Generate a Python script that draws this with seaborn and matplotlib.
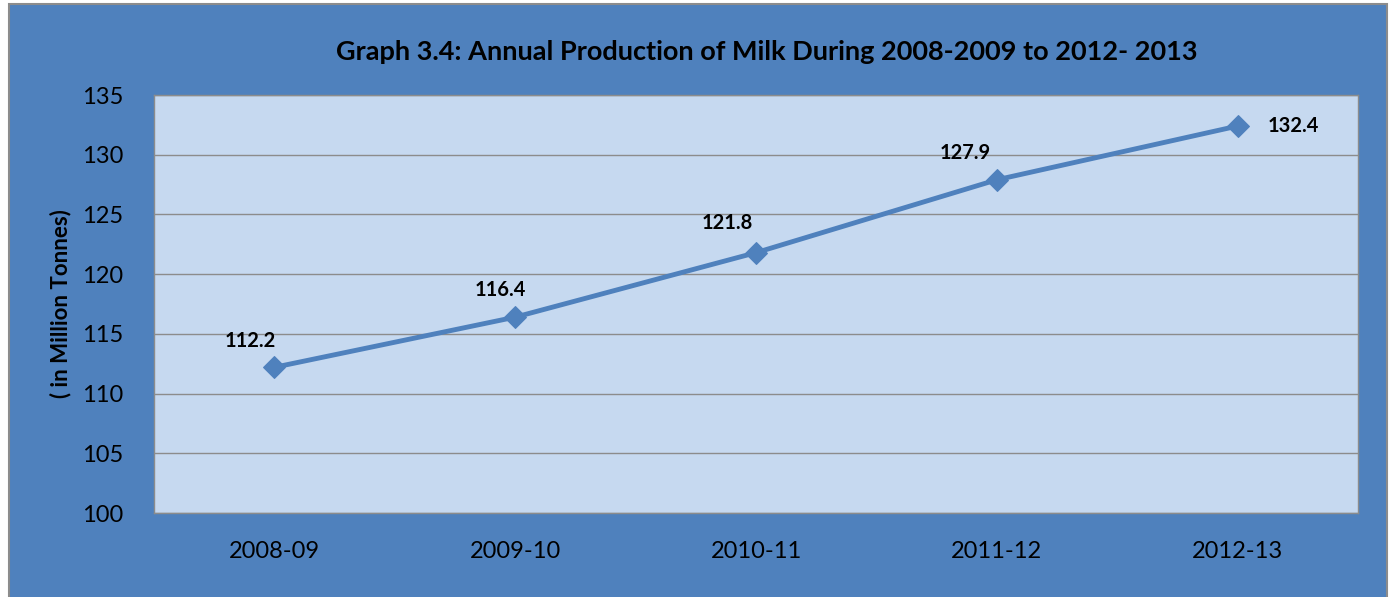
import pandas as pd
import matplotlib.pyplot as plt
import seaborn as sns
from matplotlib.patches import Rectangle

# Chart data
years = ["2008-09", "2009-10", "2010-11", "2011-12", "2012-13"]
milk_production = [112.2, 116.4, 121.8, 127.9, 132.4]
y_ticks = [100, 105, 110, 115, 120, 125, 130, 135]

df = pd.DataFrame({"year": years, "production": milk_production})

sns.set_style("white")
plt.rcParams["font.family"] = ["Lato", "DejaVu Sans"]
plt.rcParams["text.color"] = "black"

W, H = 1392, 597
fig = plt.figure(figsize=(W / 100, H / 100), dpi=100)
fig.patch.set_facecolor("white")

# Blue chart frame
fig.patches.append(Rectangle(
    (9 / W, -0.02), (1387 - 9) / W, 1.02 - 4 / H,
    transform=fig.transFigure, facecolor="#4F81BD",
    edgecolor="#8C8C8C", linewidth=1.5, zorder=-5
))

ax = fig.add_axes([154 / W, 1 - 513 / H, (1358 - 154) / W, (513 - 95) / H])
ax.set_zorder(2)
ax.set_facecolor("#C6D9F0")

sns.lineplot(
    x="year", y="production", data=df, ax=ax,
    color="#4F81BD", linewidth=3.5, marker="D", markersize=11,
    markeredgecolor="#4F81BD", sort=False
)

ax.set_xlim(-0.5, len(years) - 0.5)
ax.set_ylim(100, 135)
ax.set_yticks(y_ticks)
ax.grid(axis="y", color="#8C8C8C", linewidth=1)
ax.set_axisbelow(True)
for spine in ax.spines.values():
    spine.set_color("#8C8C8C")
    spine.set_linewidth(1)
ax.tick_params(axis="both", length=0, labelsize=17, colors="black")
ax.tick_params(axis="x", pad=20)
ax.tick_params(axis="y", pad=22)

ax.set_xlabel("")
ax.set_ylabel("( in Million Tonnes)", fontsize=16, fontweight="bold",
              labelpad=8, color="black")

# Data labels
label_offsets = [(-17, 19), (-11, 19.5), (-21, 21), (-23, 19), (40, 0)]
for i, (val, off) in enumerate(zip(milk_production, label_offsets)):
    ax.annotate(f"{val:.1f}", (i, val), xytext=off, textcoords="offset points",
                ha="center", va="center", fontsize=14.5, fontweight="bold",
                color="black")

fig.text(767 / W, 1 - 52 / H,
         "Graph 3.4: Annual Production of Milk During 2008-2009 to 2012- 2013",
         ha="center", va="center", fontsize=19.5, fontweight="bold",
         color="black")

fig.savefig("out.png", dpi=100, facecolor=fig.get_facecolor())
